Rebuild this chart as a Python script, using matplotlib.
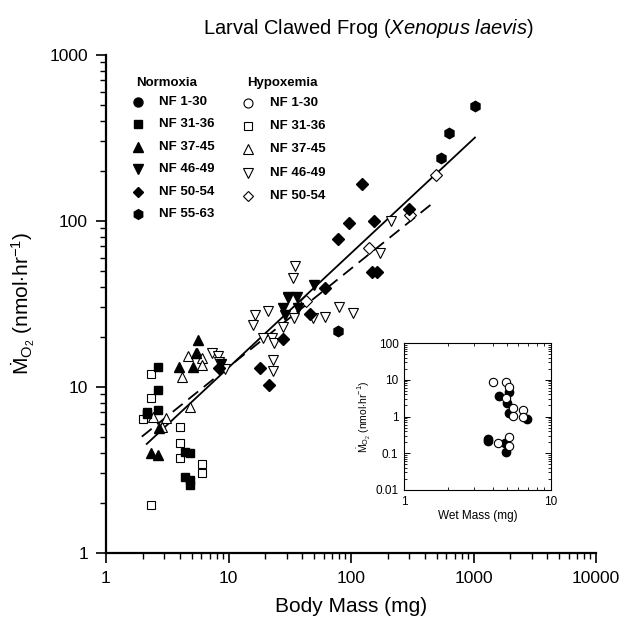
import matplotlib
matplotlib.use("Agg")
import matplotlib.pyplot as plt
from matplotlib.ticker import LogLocator, FixedLocator, NullFormatter, FixedFormatter

plt.rcParams["font.family"] = ["Liberation Sans", "DejaVu Sans"]
plt.rcParams["mathtext.fontset"] = "custom"
plt.rcParams["mathtext.rm"] = "Liberation Sans"
plt.rcParams["mathtext.it"] = "Liberation Sans:italic"

# --- normoxia (filled symbols) ---
nf31_36_x = [2.67, 2.67, 2.15, 2.17, 2.67, 4.41, 4.85, 4.41, 4.85, 4.85]
nf31_36_y = [13.2, 9.55, 7.07, 6.85, 7.24, 4.06, 3.97, 2.86, 2.74, 2.56]
nf37_45_x = [5.60, 5.43, 3.94, 5.16, 2.33, 2.64, 2.71]
nf37_45_y = [19.1, 16.0, 13.1, 13.1, 4.0, 3.88, 5.64]
nf46_49_x = [8.69, 49.9, 30.4, 36.0, 28.0, 28.9, 37.1]
nf46_49_y = [13.7, 41.0, 34.8, 34.8, 29.7, 27.0, 29.7]
nf50_54_x = [8.41, 122, 96.9, 154, 77.9, 61.3, 46.3, 27.7, 18.1, 21.5, 149, 164, 297]
nf50_54_y = [12.9, 166, 97.3, 99.5, 77.3, 39.5, 27.3, 19.4, 12.9, 10.2, 49.3, 49.3, 117]
nf55_63_x = [1028, 635, 543, 77.6]
nf55_63_y = [492, 336, 237, 21.7]

# --- hypoxemia (open symbols) ---
h31_36_x = [2.33, 2.33, 1.99, 4.02, 4.02, 4.02, 6.04, 6.04, 2.33]
h31_36_y = [11.9, 8.51, 6.36, 5.69, 4.60, 3.70, 3.42, 3.01, 1.94]
h37_45_x = [4.70, 5.50, 6.04, 6.04, 4.15, 4.85, 2.43, 3.09, 2.85]
h37_45_y = [15.3, 15.9, 14.9, 13.5, 11.5, 7.58, 6.6, 6.45, 5.74]
h46_49_x = [7.29, 8.26, 8.41, 9.36, 34.9, 33.8, 30.7, 21.1, 16.5, 15.8, 27.7, 19.2,
            22.5, 23.7, 23.2, 23.2, 34.4, 61.3, 49.0, 80.2, 104, 173, 212]
h46_49_y = [16.0, 15.3, 14.1, 12.7, 53.3, 45.3, 34.0, 28.6, 27.0, 23.5, 23.0, 19.6,
            19.6, 18.4, 14.5, 12.5, 25.8, 26.4, 25.9, 30.3, 27.7, 64.2, 100]
h50_54_x = [42.9, 141, 303, 494]
h50_54_y = [33.0, 68.2, 108, 188]

# regression lines (end points)
norm_fit_x = [2.15, 1028]
norm_fit_y = [4.52, 317]
hyp_fit_x = [1.96, 470]
hyp_fit_y = [5.0, 128.5]

# --- inset: NF 1-30 ---
ins_norm_x = [5.2, 4.4, 5.05, 5.2, 6.9, 3.75, 3.75, 4.87, 4.94]
ins_norm_y = [4.7, 3.6, 2.3, 1.26, 0.88, 0.24, 0.22, 0.186, 0.11]
ins_hyp_x = [4.0, 4.94, 5.2, 4.94, 5.5, 6.4, 5.5, 6.4, 4.38, 5.2, 5.2]
ins_hyp_y = [8.9, 8.9, 6.5, 3.1, 1.66, 1.5, 1.02, 0.95, 0.195, 0.27, 0.158]

norm_labels = ["NF 1-30", "NF 31-36", "NF 37-45", "NF 46-49", "NF 50-54", "NF 55-63"]
hyp_labels = ["NF 1-30", "NF 31-36", "NF 37-45", "NF 46-49", "NF 50-54"]

W, H = 624, 626
fig = plt.figure(figsize=(W / 100, H / 100), dpi=100)
ax = fig.add_axes([106 / W, 1 - 552.7 / H, 490 / W, 498 / H])

ms = {"s": 6, "^": 7, "v": 7, "D": 6, "h": 7.5, "o": 7}


def filled(x, y, m):
    ax.plot(x, y, m, ls="none", color="black", ms=ms[m], mec="black", zorder=3)


def hollow(x, y, m):
    ax.plot(x, y, m, ls="none", mfc="white", mec="black", mew=0.8, ms=ms[m], zorder=3)


ax.plot(norm_fit_x, norm_fit_y, color="black", lw=1.3, zorder=2)
ax.plot(hyp_fit_x, hyp_fit_y, color="black", lw=1.3, dashes=(7, 4), zorder=2)

hollow(h31_36_x, h31_36_y, "s")
hollow(h37_45_x, h37_45_y, "^")
hollow(h46_49_x, h46_49_y, "v")
hollow(h50_54_x, h50_54_y, "D")
filled(nf31_36_x, nf31_36_y, "s")
filled(nf37_45_x, nf37_45_y, "^")
filled(nf46_49_x, nf46_49_y, "v")
filled(nf50_54_x, nf50_54_y, "D")
filled(nf55_63_x, nf55_63_y, "h")

ax.set_xscale("log")
ax.set_yscale("log")
ax.set_xlim(1, 10000)
ax.set_ylim(1, 1000)
for s in ["top", "right"]:
    ax.spines[s].set_visible(False)
for s in ["left", "bottom"]:
    ax.spines[s].set_linewidth(1.6)
ax.xaxis.set_major_locator(FixedLocator([1, 10, 100, 1000, 10000]))
ax.xaxis.set_major_formatter(FixedFormatter(["1", "10", "100", "1000", "10000"]))
ax.yaxis.set_major_locator(FixedLocator([1, 10, 100, 1000]))
ax.yaxis.set_major_formatter(FixedFormatter(["1", "10", "100", "1000"]))
ax.xaxis.set_minor_locator(LogLocator(base=10, subs=range(2, 10)))
ax.yaxis.set_minor_locator(LogLocator(base=10, subs=range(2, 10)))
ax.xaxis.set_minor_formatter(NullFormatter())
ax.yaxis.set_minor_formatter(NullFormatter())
ax.tick_params(which="major", direction="out", length=7, width=1.2, labelsize=12.5, pad=6)
ax.tick_params(which="minor", direction="out", length=4, width=1.0)

ax.set_xlabel("Body Mass (mg)", fontsize=15, labelpad=8)
ax.set_ylabel(r"$\dot{\mathrm{M}}_{\mathrm{O_2}}$ (nmol$\cdot$hr$^{\mathrm{-1}}$)", fontsize=15)
ax.yaxis.set_label_coords(-0.14, 0.5)

fig.text(368 / W, 1 - 28 / H, r"Larval Clawed Frog ($\mathit{Xenopus\ laevis}$)",
         fontsize=14.5, ha="center", va="center")

# legend built by hand
leg_markers = ["o", "s", "^", "v", "D", "h"]
fig.text(136 / W, 1 - 83 / H, "Normoxia", fontsize=9.5, weight="bold", va="center")
fig.text(247 / W, 1 - 83 / H, "Hypoxemia", fontsize=9.5, weight="bold", va="center")
for i, lab in enumerate(norm_labels):
    yy = 1 - (102 + 22.4 * i) / H
    fig.lines.append(plt.Line2D([138 / W], [yy], marker=leg_markers[i], ls="none",
                                color="black", ms=ms[leg_markers[i]] - 0.5,
                                transform=fig.transFigure, figure=fig))
    fig.text(159 / W, yy, lab, fontsize=9.5, weight="bold", va="center")
for i, lab in enumerate(hyp_labels):
    yy = 1 - (103 + 23.2 * i) / H
    fig.lines.append(plt.Line2D([248 / W], [yy], marker=leg_markers[i], ls="none",
                                mfc="white", mec="black", mew=0.8,
                                ms=ms[leg_markers[i]] - 0.5, transform=fig.transFigure,
                                figure=fig))
    fig.text(270 / W, yy, lab, fontsize=9.5, weight="bold", va="center")

# inset
ins = fig.add_axes([404 / W, 1 - 490 / H, 147 / W, 147 / H])
ins.plot(ins_norm_x, ins_norm_y, "o", ls="none", color="black", ms=6)
ins.plot(ins_hyp_x, ins_hyp_y, "o", ls="none", mfc="white", mec="black", mew=0.8, ms=6)
ins.set_xscale("log")
ins.set_yscale("log")
ins.set_xlim(1, 10)
ins.set_ylim(0.01, 100)
ins.xaxis.set_major_locator(FixedLocator([1, 10]))
ins.xaxis.set_major_formatter(FixedFormatter(["1", "10"]))
ins.yaxis.set_major_locator(FixedLocator([0.01, 0.1, 1, 10, 100]))
ins.yaxis.set_major_formatter(FixedFormatter(["0.01", "0.1", "1", "10", "100"]))
ins.xaxis.set_minor_locator(LogLocator(base=10, subs=range(2, 10)))
ins.yaxis.set_minor_locator(LogLocator(base=10, subs=range(2, 10)))
ins.xaxis.set_minor_formatter(NullFormatter())
ins.yaxis.set_minor_formatter(NullFormatter())
ins.tick_params(which="both", direction="in", top=True, right=True, labelsize=8.5, pad=4)
ins.tick_params(which="major", length=4, width=0.7)
ins.tick_params(which="minor", length=2.5, width=0.6)
for s in ins.spines.values():
    s.set_linewidth(0.8)
ins.set_xlabel("Wet Mass (mg)", fontsize=8.5, labelpad=2)
ins.set_ylabel(r"$\dot{\mathrm{M}}_{\mathrm{O_2}}$ (nmol$\cdot$hr$^{\mathrm{-1}}$)", fontsize=7.5,
               labelpad=2)

fig.savefig("out.png", dpi=100)
